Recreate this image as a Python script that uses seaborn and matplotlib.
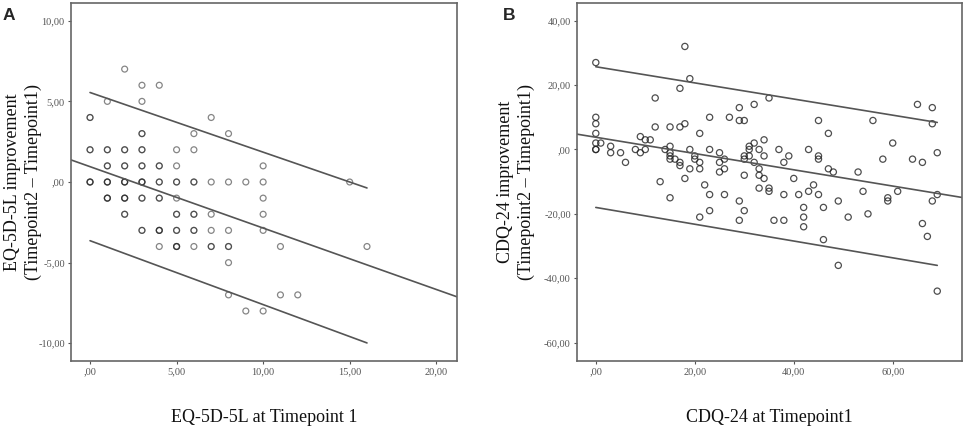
import numpy as np
import matplotlib
matplotlib.use("Agg")
import matplotlib.pyplot as plt
import seaborn as sns

# Panel A: EQ-5D-5L (integer scores, repeats = overlapping points)
eq_x = [2, 3, 4, 1, 3, 0, 0, 7, 3, 3, 6, 8,
        0, 0, 1, 1, 2, 2, 3, 3, 5, 6,
        1, 1, 2, 2, 3, 3, 4, 4, 5, 10,
        0, 0, 0, 1, 1, 1, 2, 2, 2, 3, 3, 3, 4, 4, 5, 5, 6, 6, 7, 8, 9, 10, 15,
        1, 1, 1, 2, 2, 2, 3, 3, 4, 4, 5, 10,
        2, 2, 5, 5, 6, 6, 7, 10,
        3, 3, 4, 4, 4, 5, 5, 6, 6, 7, 8, 10,
        4, 5, 5, 5, 6, 7, 7, 8, 8, 11, 16,
        8, 8, 11, 12, 9, 10]
eq_y = [7, 6, 6, 5, 5, 4, 4, 4, 3, 3, 3, 3,
        2, 2, 2, 2, 2, 2, 2, 2, 2, 2,
        1, 1, 1, 1, 1, 1, 1, 1, 1, 1,
        0, 0, 0, 0, 0, 0, 0, 0, 0, 0, 0, 0, 0, 0, 0, 0, 0, 0, 0, 0, 0, 0, 0,
        -1, -1, -1, -1, -1, -1, -1, -1, -1, -1, -1, -1,
        -2, -2, -2, -2, -2, -2, -2, -2,
        -3, -3, -3, -3, -3, -3, -3, -3, -3, -3, -3, -3,
        -4, -4, -4, -4, -4, -4, -4, -4, -4, -4, -4,
        -5, -7, -7, -7, -8, -8]
eq_fit_x = [-1.1, 21.2]
eq_fit_y = [1.37, -7.12]
eq_band_x = [0, 16]
eq_upper_y = [5.55, -0.37]
eq_lower_y = [-3.64, -9.98]
eq_xticks = [0, 5, 10, 15, 20]
eq_xlabels = [",00", "5,00", "10,00", "15,00", "20,00"]
eq_yticks = [10, 5, 0, -5, -10]
eq_ylabels = ["10,00", "5,00", ",00", "-5,00", "-10,00"]

# Panel B: CDQ-24
cdq_x = [0, 0, 0, 0, 0, 1, 0, 0,
         3, 3, 5, 6, 8, 9, 10, 9, 10, 11,
         12, 12, 13, 14, 15, 15, 15, 15, 15, 15,
         16, 17, 17, 17, 17, 18, 18, 18,
         19, 19, 19, 20, 20, 21, 21, 21, 21, 22,
         23, 23, 23, 23, 25, 25, 25, 26, 26, 26,
         27, 29, 29, 29, 29, 30, 30, 30, 30, 30,
         31, 31, 31, 32, 32, 32, 33, 33, 33, 33, 34, 34, 34,
         35, 35, 35, 36, 37, 38, 38, 38, 39, 40, 41,
         42, 42, 42, 43, 43, 44, 45, 45, 45, 45,
         46, 46, 47, 47, 48, 49, 49, 51, 53, 54, 55,
         56, 58, 59, 59, 60, 61, 64, 65, 66, 66, 67,
         68, 68, 68, 69, 69, 69]
cdq_y = [27, 10, 8, 5, 2, 2, 0, 0,
         1, -1, -1, -4, 0, -1, 0, 4, 3, 3,
         16, 7, -10, 0, 7, 1, -1, -2, -3, -15,
         -3, 19, 7, -4, -5, 32, 8, -9,
         22, 0, -6, -2, -3, 5, -4, -6, -21, -11,
         10, 0, -14, -19, -1, -4, -7, -3, -6, -14,
         10, 13, 9, -16, -22, 9, -2, -3, -8, -19,
         1, 0, -2, 14, 2, -4, 0, -6, -8, -12, 3, -2, -9,
         16, -12, -13, -22, 0, -4, -14, -22, -2, -9, -14,
         -18, -21, -24, 0, -13, -11, 9, -2, -3, -14,
         -18, -28, 5, -6, -7, -16, -36, -21, -7, -13, -20,
         9, -3, -15, -16, 2, -13, -3, 14, -4, -23, -27,
         13, 8, -16, -14, -1, -44]
cdq_fit_x = [-3.8, 74.0]
cdq_fit_y = [4.76, -14.9]
cdq_band_x = [0, 69]
cdq_upper_y = [25.7, 8.4]
cdq_lower_y = [-18.0, -36.0]
cdq_xticks = [0, 20, 40, 60]
cdq_xlabels = [",00", "20,00", "40,00", "60,00"]
cdq_yticks = [40, 20, 0, -20, -40, -60]
cdq_ylabels = ["40,00", "20,00", ",00", "-20,00", "-40,00", "-60,00"]

sns.set_theme(style="white")
plt.rcParams["font.family"] = ["Liberation Serif", "DejaVu Serif"]

fig = plt.figure(figsize=(9.65, 4.3), dpi=100)
ax_a = fig.add_axes([71 / 965, 69 / 430, 386 / 965, 358 / 430])
ax_b = fig.add_axes([577 / 965, 69 / 430, 385 / 965, 358 / 430])

line_col = "#555555"
frame_col = "#666666"


def style_axis(ax, xticks, xlabels, yticks, ylabels, xlabel, ylabel, ylab_x):
    ax.set_xticks(xticks, xlabels)
    ax.set_yticks(yticks, ylabels)
    ax.tick_params(axis="both", direction="out", length=2.5, width=0.8,
                   colors="#555555", labelsize=7.5, left=True, bottom=True, pad=2)
    for s in ax.spines.values():
        s.set_color(frame_col)
        s.set_linewidth(1.2)
    ax.set_xlabel(xlabel, fontsize=13, color="#111111")
    ax.set_ylabel(ylabel, fontsize=13, color="#111111", linespacing=1.25)
    ax.xaxis.set_label_coords(0.5, -0.135)
    ax.yaxis.set_label_coords(ylab_x, 0.5)
    ax.grid(False)


# Panel A
sns.scatterplot(x=eq_x, y=eq_y, ax=ax_a, marker="o", s=18, facecolor="none",
                edgecolor="#222222", linewidth=0.9, alpha=0.55)
sns.lineplot(x=eq_fit_x, y=eq_fit_y, ax=ax_a, color=line_col, lw=1.2, sort=False, estimator=None)
sns.lineplot(x=eq_band_x, y=eq_upper_y, ax=ax_a, color=line_col, lw=1.2, sort=False, estimator=None)
sns.lineplot(x=eq_band_x, y=eq_lower_y, ax=ax_a, color=line_col, lw=1.2, sort=False, estimator=None)
ax_a.set_xlim(-1.1, 21.2)
ax_a.set_ylim(-11.1, 11.1)
style_axis(ax_a, eq_xticks, eq_xlabels, eq_yticks, eq_ylabels,
           "EQ-5D-5L at Timepoint 1",
           "EQ-5D-5L improvement\n(Timepoint2 \u2013 Timepoint1)", -0.075)

# Panel B
sns.scatterplot(x=cdq_x, y=cdq_y, ax=ax_b, marker="o", s=20, facecolor="none",
                edgecolor="#222222", linewidth=0.9, alpha=0.8)
sns.lineplot(x=cdq_fit_x, y=cdq_fit_y, ax=ax_b, color=line_col, lw=1.2, sort=False, estimator=None)
sns.lineplot(x=cdq_band_x, y=cdq_upper_y, ax=ax_b, color=line_col, lw=1.2, sort=False, estimator=None)
sns.lineplot(x=cdq_band_x, y=cdq_lower_y, ax=ax_b, color=line_col, lw=1.2, sort=False, estimator=None)
ax_b.set_xlim(-3.8, 74.0)
ax_b.set_ylim(-65.7, 45.5)
style_axis(ax_b, cdq_xticks, cdq_xlabels, cdq_yticks, cdq_ylabels,
           "CDQ-24 at Timepoint1",
           "CDQ-24 improvement\n(Timepoint2 \u2013 Timepoint1)", -0.11)

fig.text(3 / 965, 1 - 20 / 430, "A", fontsize=12.5, fontweight="bold",
         family=["Liberation Sans", "DejaVu Sans"])
fig.text(503 / 965, 1 - 20 / 430, "B", fontsize=12.5, fontweight="bold",
         family=["Liberation Sans", "DejaVu Sans"])

fig.savefig("out.png", dpi=100)
